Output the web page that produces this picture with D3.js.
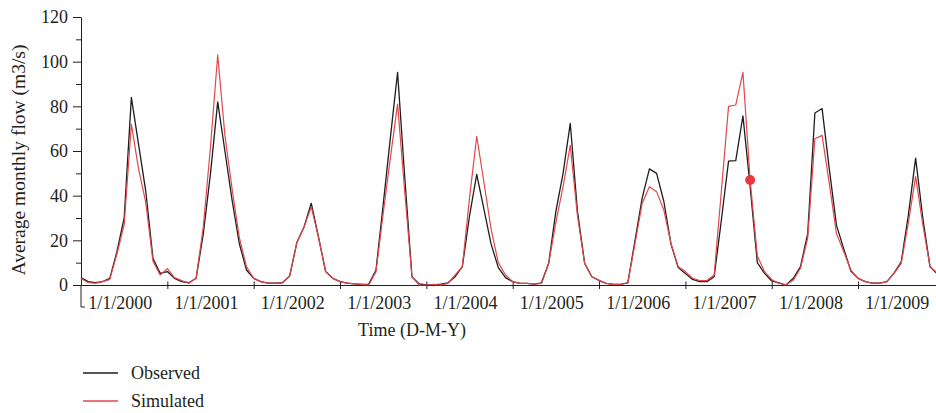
<!DOCTYPE html>
<html>
<head>
<meta charset="utf-8">
<script src="https://cdn.jsdelivr.net/npm/d3@7/dist/d3.min.js"></script>
<style>
    body { margin: 0; background: #fff; }
    svg text { font-family: "Liberation Serif", "DejaVu Serif", serif; fill: #231f20; }
</style>
</head>
<body>
<div class="Canvas"></div>
<script>
// monthly values, Jan 2000 .. Dec 2009
let observed = [
    3.3, 1.5, 1, 1.5, 3, 15, 30, 84, 63, 42, 12, 5.2,
    6, 3, 1.5, 1, 3, 23, 50, 82, 60, 38, 18.6, 6.7,
    3, 1.5, 0.8, 0.8, 1, 4, 19, 26, 36.6, 21.6, 6, 3,
    1.5, 0.8, 0.5, 0.3, 0.4, 6.7, 36, 66, 95.2, 48, 3.7, 0.5,
    0, 0, 0.4, 1, 3.7, 8.2, 31, 49.5, 34, 18.3, 7.8, 3.3,
    1.5, 0.7, 0.7, 0.4, 1, 9.7, 33, 50, 72.4, 33, 9.7, 3.7,
    2, 0.7, 0.3, 0.3, 1, 20, 39, 52, 50, 37.5, 18.3, 7.8,
    5.2, 2.5, 1.5, 1.5, 3.7, 29, 55.5, 55.7, 75.7, 44, 10, 5.2,
    1.8, 1, 0, 3, 8.2, 23, 77, 79, 52, 26.8, 16.3, 6.3,
    3, 1.5, 0.8, 0.8, 1.5, 5.3, 10.4, 31.5, 56.8, 30, 8.2, 5
];
let simulated = [
    3, 1, 0.8, 1.5, 2.5, 14, 27, 72, 52, 37, 10.7, 4.5,
    7.3, 3.3, 2, 0.8, 3, 26, 62, 103, 67, 43, 21.3, 8.2,
    3, 1.5, 0.8, 0.8, 1, 4, 19, 26, 35, 21.6, 6, 3,
    1.5, 0.8, 0.5, 0.3, 0, 6, 32, 57, 81, 41.5, 3.7, 0,
    0, 0.3, 0, 0.7, 4.5, 8.2, 39, 66.6, 46, 25, 10, 4.5,
    1.5, 0.7, 0.7, 0.4, 0.7, 9.7, 28, 44, 62.5, 31, 9.7, 3.7,
    2.2, 0.7, 0.3, 0.3, 1, 18.6, 36.6, 44, 41.8, 33.6, 18.6, 8.2,
    6, 3, 2, 2, 4.5, 42, 80, 80.6, 95.2, 47, 13, 6,
    2.5, 0.7, 0, 2.2, 7.5, 21, 65.5, 67, 45.5, 23, 15, 6.7,
    3, 1.5, 0.8, 0.8, 1.5, 5.2, 9.7, 28, 48.5, 27, 8.2, 5.5
];
let yearLabels = ['1/1/2000', '1/1/2001', '1/1/2002', '1/1/2003', '1/1/2004',
    '1/1/2005', '1/1/2006', '1/1/2007', '1/1/2008', '1/1/2009'];
let yearTicks = [12, 24, 36, 48, 60, 72, 84, 96, 108];
let yMajor = [0, 20, 40, 60, 80, 100, 120];
let yMinor = [10, 30, 50, 70, 90, 110];
let markedMonth = 93; // red dot on the simulated series

let width = 936;
let height = 413;
let obsColor = '#1e1e1e';
let simColor = '#e2474b';

let x = d3.scaleLinear().domain([0, 120]).range([81, 81 + 7.195 * 120]);
let y = d3.scaleLinear().domain([0, 120]).range([285, 17]);

let svg = d3.select('.Canvas').append('svg')
    .attr('width', width)
    .attr('height', height);

// y axis: minor then major ticks
svg.append('g')
    .attr('transform', `translate(${x(0)},0)`)
    .call(d3.axisLeft(y).tickValues(yMinor).tickSize(5).tickFormat(''))
    .call((g) => g.select('.domain').remove());
let yAxis = svg.append('g')
    .attr('transform', `translate(${x(0)},0)`)
    .call(d3.axisLeft(y).tickValues(yMajor).tickSize(8).tickSizeOuter(0).tickPadding(5));
yAxis.selectAll('text').attr('font-size', '18px').attr('fill', '#231f20');
yAxis.select('.domain').attr('stroke', '#231f20');
// y axis runs a bit below zero with a little hook
svg.append('path')
    .attr('d', `M${x(0)},${y(0)}V${y(0) + 22}h4`)
    .attr('fill', 'none')
    .attr('stroke', '#231f20');

// x axis
let xAxis = svg.append('g')
    .attr('transform', `translate(0,${y(0)})`)
    .call(d3.axisBottom(x).tickValues(yearTicks).tickSize(4).tickSizeOuter(0).tickFormat(''));
xAxis.selectAll('.tick line').attr('y1', -3.5);
xAxis.select('.domain').attr('stroke', '#231f20');

svg.append('g')
    .selectAll('text')
    .data(yearLabels)
    .enter()
    .append('text')
    .attr('x', (d, i) => x(i * 12 + 6) - 4)
    .attr('y', 309)
    .attr('text-anchor', 'middle')
    .attr('font-size', '18px')
    .text((d) => d);

svg.selectAll('.tick line').attr('stroke', '#231f20');

// axis titles
svg.append('text')
    .attr('transform', `translate(25,${y(0) - 125}) rotate(-90)`)
    .attr('text-anchor', 'middle')
    .attr('font-size', '19.5px')
    .text('Average monthly flow (m3/s)');
svg.append('text')
    .attr('x', 412)
    .attr('y', 336)
    .attr('text-anchor', 'middle')
    .attr('font-size', '18px')
    .text('Time (D-M-Y)');

// series
let line = d3.line()
    .x((d, i) => x(i))
    .y((d) => y(d));

svg.append('path')
    .datum(observed)
    .attr('d', line)
    .attr('fill', 'none')
    .attr('stroke', obsColor)
    .attr('stroke-width', 1.3)
    .attr('stroke-linejoin', 'round');
svg.append('path')
    .datum(simulated)
    .attr('d', line)
    .attr('fill', 'none')
    .attr('stroke', simColor)
    .attr('stroke-width', 1.2)
    .attr('stroke-linejoin', 'round');

svg.append('circle')
    .attr('cx', x(markedMonth))
    .attr('cy', y(simulated[markedMonth]))
    .attr('r', 5)
    .attr('fill', '#e8393f');

// legend
let legend = [
    { name: 'Observed', color: obsColor },
    { name: 'Simulated', color: simColor },
];
let items = svg.append('g')
    .selectAll('g')
    .data(legend)
    .enter()
    .append('g')
    .attr('transform', (d, i) => `translate(83,${373 + i * 28})`);
items.append('line')
    .attr('x1', 0)
    .attr('x2', 35)
    .attr('stroke', (d) => d.color)
    .attr('stroke-width', 1.3);
items.append('text')
    .attr('x', 48)
    .attr('y', 6)
    .attr('font-size', '18px')
    .text((d) => d.name);
</script>
</body>
</html>
